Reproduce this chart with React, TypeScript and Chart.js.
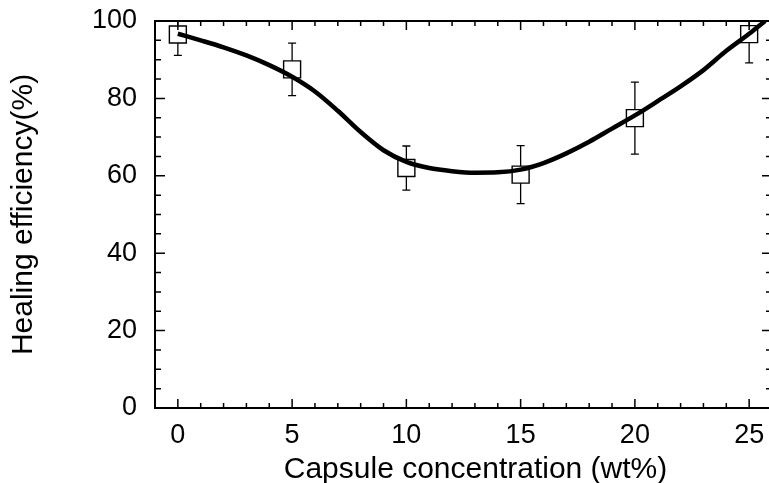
import React, { useEffect, useRef } from "react";
import { Chart, registerables } from "chart.js";

Chart.register(...registerables);

// Measured data (capsule concentration vs healing efficiency)
const concentration = [0, 5, 10, 15, 20, 25];
const efficiency = [96.5, 87.5, 62, 60.3, 74.9, 96.6];
const errors = [5.4, 6.8, 5.7, 7.5, 9.3, 7.4];

// Fitted curve
const fitX = [0, 1, 2, 3, 4, 5, 6, 7, 8, 9, 10, 11, 12, 13, 14, 15, 16, 17, 18, 19, 20, 21, 22, 23, 24, 25, 25.7];
const fitY = [96.7, 95.0, 93.2, 91.1, 88.6, 85.6, 81.8, 76.8, 71.3, 66.6, 63.6, 62.0, 61.2, 60.8, 60.9, 61.6, 63.3, 65.8, 68.8, 72.2, 75.6, 79.3, 83.1, 87.3, 92.3, 96.7, 100];

const xTickValues = [0, 5, 10, 15, 20, 25];
const yTickValues = [0, 20, 40, 60, 80, 100];

const xTitle = "Capsule concentration (wt%)";
const yTitle = "Healing efficiency(%)";

const FONT = "'Liberation Sans', Arial, Helvetica, sans-serif";

const framePlugin = {
  id: "frameAndTicks",
  beforeDatasetsDraw(chart: any) {
    const { ctx, chartArea, scales } = chart;
    const xs = scales.x;
    const ys = scales.y;
    ctx.save();
    ctx.beginPath();
    ctx.rect(chartArea.left, chartArea.top, chartArea.right - chartArea.left, chartArea.bottom - chartArea.top);
    ctx.clip();
    ctx.strokeStyle = "#000";
    ctx.lineWidth = 1.3;
    concentration.forEach((c, i) => {
      const x = xs.getPixelForValue(c);
      const yTop = ys.getPixelForValue(efficiency[i] + errors[i]);
      const yBot = ys.getPixelForValue(efficiency[i] - errors[i]);
      ctx.beginPath();
      ctx.moveTo(x, yTop);
      ctx.lineTo(x, yBot);
      ctx.moveTo(x - 4, yTop);
      ctx.lineTo(x + 4, yTop);
      ctx.moveTo(x - 4, yBot);
      ctx.lineTo(x + 4, yBot);
      ctx.stroke();
    });
    ctx.restore();
  },
  afterDraw(chart: any) {
    const { ctx, chartArea, scales } = chart;
    const xs = scales.x;
    const ys = scales.y;
    const { left, right, top, bottom } = chartArea;
    ctx.save();
    ctx.strokeStyle = "#000";
    ctx.lineWidth = 2;
    ctx.strokeRect(left, top, right - left, bottom - top);
    ctx.lineWidth = 1.5;
    ctx.beginPath();
    for (let v = 0; v <= 26; v += 1) {
      const x = xs.getPixelForValue(v);
      const len = v % 5 === 0 ? 9 : 5;
      ctx.moveTo(x, bottom);
      ctx.lineTo(x, bottom - len);
      ctx.moveTo(x, top);
      ctx.lineTo(x, top + len);
    }
    for (let v = 5; v < 100; v += 5) {
      const y = ys.getPixelForValue(v);
      const len = v % 20 === 0 ? 10 : 6;
      ctx.moveTo(left, y);
      ctx.lineTo(left + len, y);
      ctx.moveTo(right, y);
      ctx.lineTo(right - len, y);
    }
    ctx.stroke();
    // x-axis title (slightly right of the plot centre, as in the original)
    ctx.fillStyle = "#000";
    ctx.font = `30px ${FONT}`;
    ctx.textAlign = "center";
    ctx.textBaseline = "alphabetic";
    ctx.fillText(xTitle, (left + right) / 2 + 12, bottom + 70);
    ctx.restore();
  },
};

export default function App() {
  const ref = useRef<HTMLCanvasElement | null>(null);
  useEffect(() => {
    if (!ref.current) return;
    const chart = new Chart(ref.current, {
      type: "scatter",
      data: {
        datasets: [
          {
            label: "fit",
            data: fitX.map((x, i) => ({ x, y: fitY[i] })),
            showLine: true,
            borderColor: "#000",
            borderWidth: 4.5,
            pointRadius: 0,
            cubicInterpolationMode: "monotone",
            order: 0,
          },
          {
            label: "measured",
            data: concentration.map((x, i) => ({ x, y: efficiency[i] })),
            showLine: false,
            pointStyle: "rect",
            pointRadius: 12,
            pointBorderWidth: 1.4,
            borderColor: "#000",
            backgroundColor: "#fff",
            pointBackgroundColor: "#fff",
            pointBorderColor: "#000",
            order: 1,
          },
        ],
      },
      options: {
        animation: false,
        responsive: false,
        devicePixelRatio: 1,
        layout: { autoPadding: false, padding: { left: 0, right: 13, top: 21, bottom: 0 } },
        plugins: { legend: { display: false }, tooltip: { enabled: false } },
        scales: {
          x: {
            type: "linear",
            min: -1,
            max: 26,
            grid: { display: false, drawTicks: false },
            border: { display: false },
            afterBuildTicks: (s: any) => {
              s.ticks = xTickValues.map((value) => ({ value }));
            },
            afterFit: (s: any) => {
              s.height = 75;
              s.paddingLeft = 0;
              s.paddingRight = 0;
              s.paddingTop = 0;
              s.paddingBottom = 0;
            },
            ticks: { color: "#000", padding: 11, font: { family: FONT, size: 27 } },
            title: { display: false },
          },
          y: {
            type: "linear",
            min: 0,
            max: 100,
            grid: { display: false, drawTicks: false },
            border: { display: false },
            afterBuildTicks: (s: any) => {
              s.ticks = yTickValues.map((value) => ({ value }));
            },
            afterFit: (s: any) => {
              s.width = 155;
              s.paddingLeft = 0;
              s.paddingRight = 0;
              s.paddingTop = 0;
              s.paddingBottom = 0;
            },
            ticks: { color: "#000", padding: 18, font: { family: FONT, size: 27 } },
            title: {
              display: true,
              text: yTitle,
              color: "#000",
              font: { family: FONT, size: 30 },
              padding: { top: 6, bottom: 0 },
            },
          },
        },
      },
      plugins: [framePlugin],
    });
    return () => chart.destroy();
  }, []);
  return (
    <div style={{ position: "fixed", left: 0, top: 0, width: 769, height: 483, overflow: "hidden", background: "#fff" }}>
      <canvas ref={ref} width={785} height={483} style={{ display: "block", width: 785, height: 483 }} />
    </div>
  );
}
